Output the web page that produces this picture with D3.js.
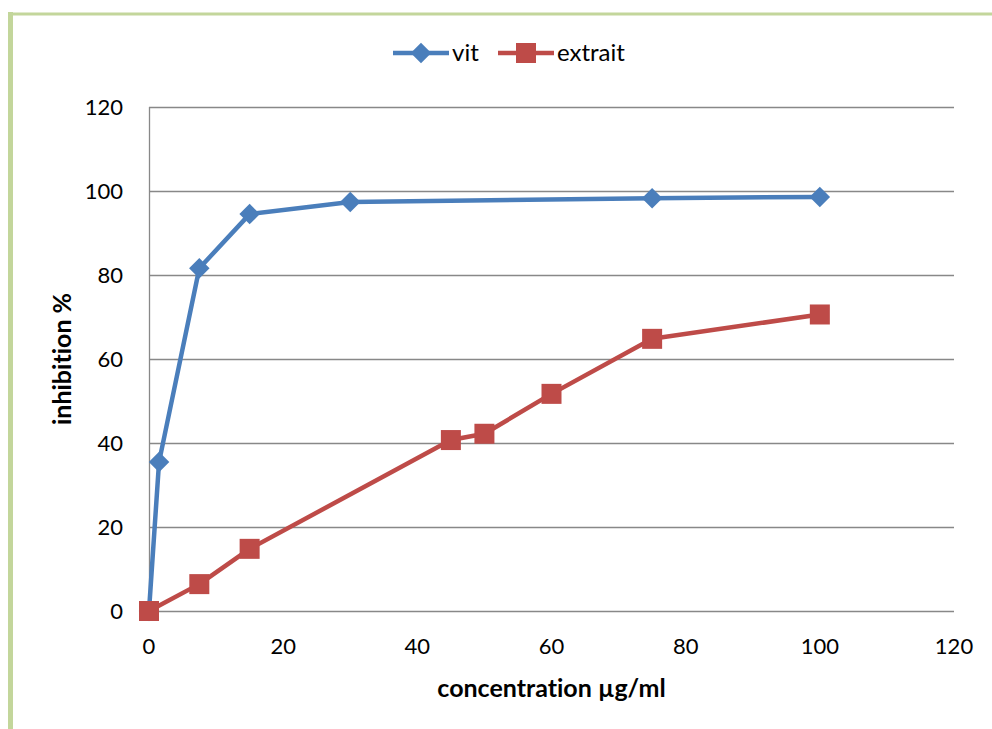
<!DOCTYPE html>
<html>
<head>
<meta charset="utf-8">
<script src="https://cdn.jsdelivr.net/npm/d3@7"></script>
<style>
  body { margin: 0; background: #fff; }
  svg { display: block; font-family: Lato, "Open Sans", sans-serif; font-variant-ligatures: none; }
</style>
</head>
<body>
<svg id="chart" width="992" height="729"></svg>
<script>
// data
const vitX = [0, 1.5, 7.5, 15, 30, 75, 100];
const vitY = [0, 35.5, 81.6, 94.5, 97.4, 98.3, 98.6];
const extraitX = [0, 7.5, 15, 45, 50, 60, 75, 100];
const extraitY = [0, 6.4, 14.8, 40.7, 42.2, 51.7, 64.8, 70.6];
const xTicks = [0, 20, 40, 60, 80, 100, 120];
const yTicks = [0, 20, 40, 60, 80, 100, 120];
const seriesNames = ["vit", "extrait"];

width = 992
height = 729
margin = {left: 149, right: 38, top: 107, bottom: 118}

const svg = d3.select("#chart");

// green frame of the original sheet
svg.append("line").attr("x1", 10.5).attr("x2", 10.5).attr("y1", 12).attr("y2", height)
  .attr("stroke", "#c3d69b").attr("stroke-width", 5);
svg.append("line").attr("x1", 8).attr("x2", width).attr("y1", 14).attr("y2", 14)
  .attr("stroke", "#c3d69b").attr("stroke-width", 3);

const x = d3.scaleLinear()
  .domain([0, 120])
  .range([margin.left, width - margin.right]);

const y = d3.scaleLinear()
  .domain([0, 120])
  .range([height - margin.bottom, margin.top]);

// gridlines
svg.append("g")
  .selectAll("line")
  .data(yTicks)
  .join("line")
  .attr("x1", x(0))
  .attr("x2", x(120))
  .attr("y1", d => Math.round(y(d)) + 0.5)
  .attr("y2", d => Math.round(y(d)) + 0.5)
  .attr("stroke", "#888")
  .attr("stroke-width", 1.3);

svg.append("line")
  .attr("x1", Math.round(x(0)) + 0.5).attr("x2", Math.round(x(0)) + 0.5)
  .attr("y1", y(120)).attr("y2", y(0))
  .attr("stroke", "#888").attr("stroke-width", 1.3);

// tick labels
svg.append("g")
  .selectAll("text")
  .data(yTicks)
  .join("text")
  .attr("x", 123)
  .attr("y", d => y(d))
  .attr("dy", "0.35em")
  .attr("text-anchor", "end")
  .attr("font-size", 22)
  .text(d => d);

svg.append("g")
  .selectAll("text")
  .data(xTicks)
  .join("text")
  .attr("x", d => x(d))
  .attr("y", 646)
  .attr("dy", "0.35em")
  .attr("text-anchor", "middle")
  .attr("font-size", 22)
  .text(d => d);

// axis titles
svg.append("text")
  .attr("x", (x(0) + x(120)) / 2)
  .attr("y", 688)
  .attr("dy", "0.35em")
  .attr("text-anchor", "middle")
  .attr("font-size", 25)
  .attr("font-weight", "bold")
  .text("concentration µg/ml");

svg.append("text")
  .attr("transform", `translate(62,${(y(0) + y(120)) / 2}) rotate(-90)`)
  .attr("dy", "0.35em")
  .attr("text-anchor", "middle")
  .attr("font-size", 25)
  .attr("font-weight", "bold")
  .text("inhibition %");

const colors = {vit: "#4a7ebb", extrait: "#be4b48"};

const line = d3.line().x(d => x(d[0])).y(d => y(d[1]));

const vitData = vitX.map((v, i) => [v, vitY[i]]);
const extraitData = extraitX.map((v, i) => [v, extraitY[i]]);

const diamond = d3.symbol().type(d3.symbolSquare).size(210);

// vit
svg.append("path")
  .datum(vitData)
  .attr("fill", "none")
  .attr("stroke", colors.vit)
  .attr("stroke-width", 4.5)
  .attr("stroke-linejoin", "round")
  .attr("d", line);

svg.append("g")
  .selectAll("path")
  .data(vitData)
  .join("path")
  .attr("transform", d => `translate(${x(d[0])},${y(d[1])}) rotate(45)`)
  .attr("d", diamond)
  .attr("fill", colors.vit);

// extrait
svg.append("path")
  .datum(extraitData)
  .attr("fill", "none")
  .attr("stroke", colors.extrait)
  .attr("stroke-width", 4.5)
  .attr("stroke-linejoin", "round")
  .attr("d", line);

svg.append("g")
  .selectAll("rect")
  .data(extraitData)
  .join("rect")
  .attr("x", d => x(d[0]) - 10)
  .attr("y", d => y(d[1]) - 10)
  .attr("width", 20)
  .attr("height", 20)
  .attr("fill", colors.extrait);

// legend
const legend = svg.append("g").attr("transform", "translate(393,53)");
const offsets = [0, 105];
seriesNames.forEach((name, i) => {
  const g = legend.append("g").attr("transform", `translate(${offsets[i]},0)`);
  g.append("line").attr("x1", 0).attr("x2", 56).attr("y1", 0).attr("y2", 0)
    .attr("stroke", colors[name]).attr("stroke-width", 4.5);
  if (name === "vit") {
    g.append("path").attr("transform", "translate(28,0) rotate(45)")
      .attr("d", diamond)
      .attr("fill", colors.vit);
  } else {
    g.append("rect").attr("x", 18).attr("y", -10).attr("width", 20).attr("height", 20)
      .attr("fill", colors.extrait);
  }
  g.append("text")
    .attr("x", 59)
    .attr("y", 0).attr("dy", "0.35em")
    .attr("font-size", 24)
    .text(name);
});
</script>
</body>
</html>
